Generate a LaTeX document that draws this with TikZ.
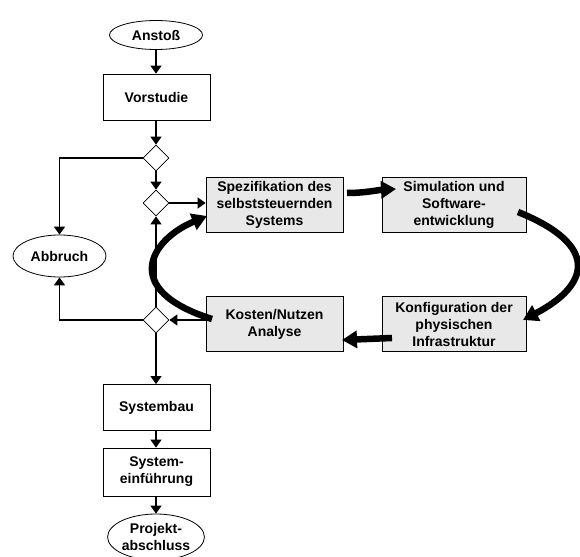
\documentclass[tikz,border=0pt]{standalone}
\usepackage{fontspec}
\setmainfont{Liberation Sans}
\usetikzlibrary{shapes.geometric,arrows.meta}
\begin{document}
\begin{tikzpicture}[x=1pt,y=-1pt,
  every node/.style={font=\bfseries\fontsize{14}{17}\selectfont, align=center, inner sep=1pt},
  wbox/.style={draw, line width=0.8pt, minimum width=107pt, minimum height=46pt},
  gbox/.style={draw, line width=0.8pt, fill=gray!18, minimum height=55pt},
  term/.style={draw, ellipse, line width=0.8pt, minimum width=93pt, minimum height=29pt, inner sep=0pt},
  dia/.style={draw, diamond, line width=0.8pt, minimum width=26pt, minimum height=26pt, inner sep=0pt},
  conn/.style={line width=1.5pt, -{Triangle[width=11pt,length=8pt]}},
  line/.style={line width=1.5pt},
  big/.style={line width=6.5pt, -{Triangle[width=17pt,length=15pt]}}
]
\useasboundingbox (0,0) rectangle (580,556);
\node[term] (anst) at (156,35) {Anstoß};
\node[wbox] (vor) at (156.5,97) {Vorstudie};
\node[dia] (d1) at (156,158) {};
\node[dia] (d2) at (156,203) {};
\node[dia] (d3) at (156,320) {};
\node[term, minimum width=93pt, minimum height=42pt] (abb) at (59.5,256) {Abbruch};
\node[gbox, minimum width=137pt] (spez) at (274.5,204.5) {Spezifikation des\\selbststeuernden\\Systems};
\node[gbox, minimum width=144pt] (sim) at (454,204.5) {Simulation und\\Software-\\entwicklung};
\node[gbox, minimum width=137pt] (kos) at (274.5,324) {Kosten/Nutzen\\Analyse};
\node[gbox, minimum width=144pt] (konf) at (454,324) {Konfiguration der\\physischen\\Infrastruktur};
\node[wbox] (sb) at (156.5,407.5) {Systembau};
\node[wbox, minimum height=48pt] (se) at (156.5,472) {System-\\einführung};
\node[term, minimum height=46pt] (proj) at (156,537) {Projekt-\\abschluss};

% thin connectors
\draw[conn] (anst.south) -- (vor.north -| anst.south);
\draw[conn] (vor.south -| d1.north) -- (d1.north);
\draw[conn] (d1.west) -| (abb.north);
\draw[conn] (d1.south) -- (d2.north);
\draw[conn] (d2.east) -- (spez.west |- d2.east);
\draw[conn] (d3.north) -- (d2.south);
\draw[conn] (kos.west |- d3.east) -- (d3.east);
\draw[conn] (d3.west) -| (abb.south);
\draw[conn] (d3.south) -- (sb.north -| d3.south);
\draw[conn] (sb.south -| d3.south) -- (se.north -| d3.south);
\draw[conn] (se.south -| d3.south) -- (proj.north);

% thick cycle arrows
\coordinate (a1) at (347,193);
\coordinate (a2) at (396,189);
\draw[big] (a1) .. controls (365,193) and (378,190) .. (a2);
\coordinate (b1) at (518,212);
\coordinate (b2) at (523,320);
\draw[big] (b1) .. controls (600,245) and (590,285) .. (b2);
\coordinate (c1) at (392,338);
\coordinate (c2) at (342,340);
\draw[big] (c1) -- (c2);
\coordinate (e1) at (212,319);
\coordinate (e2) at (207,216);
\draw[big] (e1) .. controls (120,290) and (150,240) .. (e2);
\end{tikzpicture}
\end{document}
